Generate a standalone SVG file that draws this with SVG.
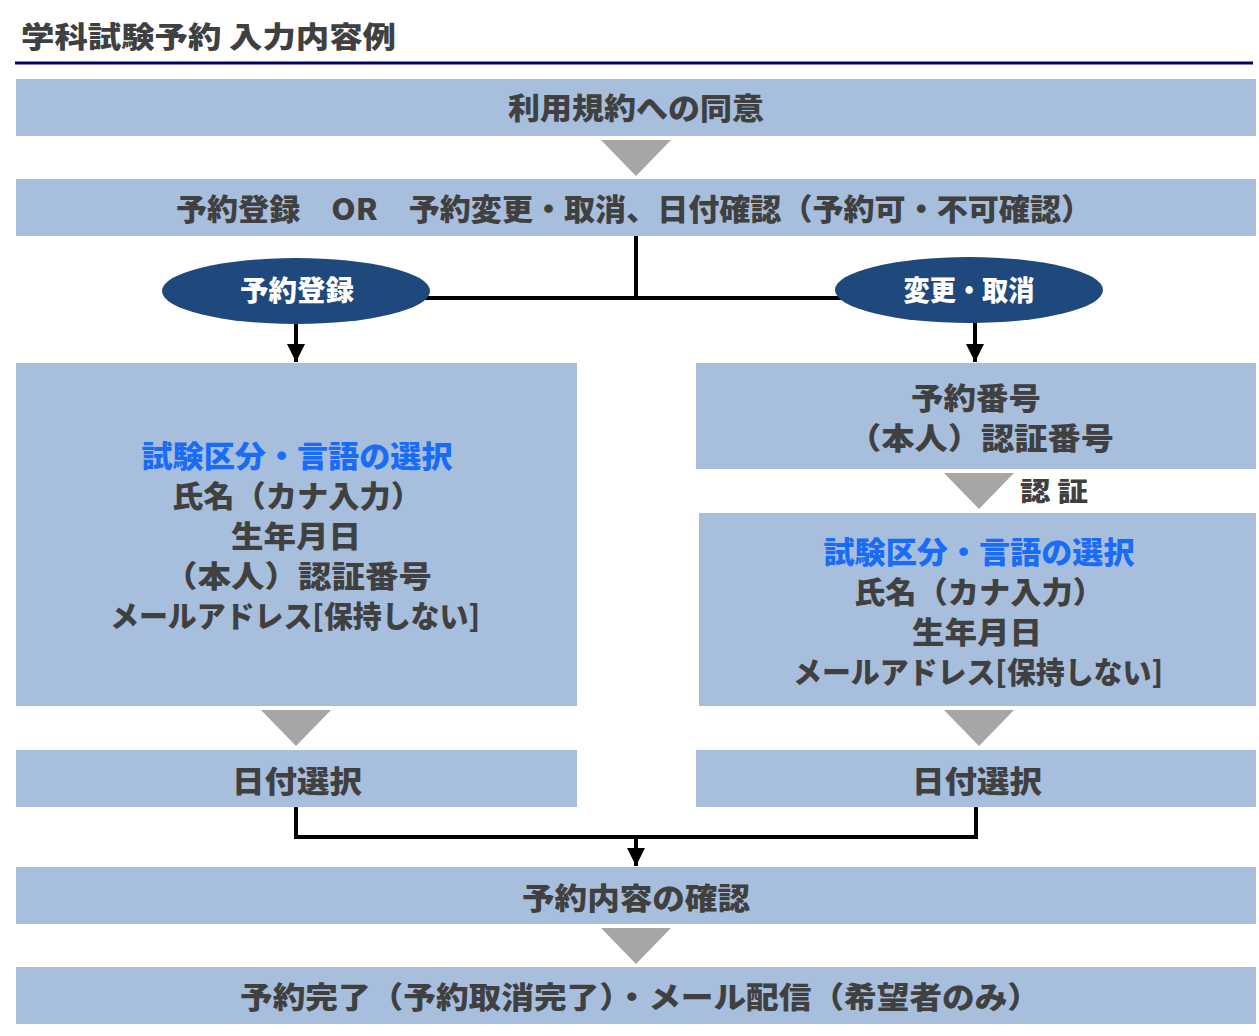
<svg xmlns="http://www.w3.org/2000/svg" width="1259" height="1036" viewBox="0 0 1259 1036">
<defs>
<style>
.box{fill:#A7BFDD}
.tri{fill:#A6A6A6}
.ell{fill:#1F497D}
.t{font-family:"Noto Sans CJK JP","Noto Sans",sans-serif;font-weight:900;fill:#404040;text-anchor:middle}
.w{fill:#FFFFFF}
.b{fill:#1A6CF6}
.ln{stroke:#000000;stroke-width:4;fill:none}
</style>
<marker id="ah" viewBox="0 0 10 10" refX="10" refY="5" markerWidth="4.5" markerHeight="4.5" markerUnits="strokeWidth" orient="auto">
<path d="M0,0 L10,5 L0,10 Z" fill="#000000"/>
</marker>
</defs>
<rect width="1259" height="1036" fill="#FFFFFF"/>
<g id="title">
<text x="21" y="48" class="t" style="text-anchor:start" font-size="29" textLength="375" lengthAdjust="spacingAndGlyphs">学科試験予約 入力内容例</text>
<line x1="15" y1="63" x2="1253" y2="63" stroke="#000066" stroke-width="3"/>
</g>
<g id="connectors">
<line class="ln" x1="636" y1="236" x2="636" y2="300"/>
<line class="ln" x1="400" y1="298" x2="860" y2="298"/>
<line class="ln" x1="296" y1="320" x2="296" y2="362" marker-end="url(#ah)"/>
<line class="ln" x1="975" y1="320" x2="975" y2="362" marker-end="url(#ah)"/>
<polyline class="ln" points="296,807 296,837 976,837 976,807"/>
<line class="ln" x1="636" y1="835" x2="636" y2="866" marker-end="url(#ah)"/>
<polygon class="tri" points="601,140 671,140 636,176"/>
<polygon class="tri" points="944,473 1014,473 979,509"/>
<polygon class="tri" points="261,710 331,710 296,746"/>
<polygon class="tri" points="944,710 1014,710 979,746"/>
<polygon class="tri" points="601,928 671,928 636,964"/>
<text x="1054" y="501" class="t" font-size="26" textLength="68" lengthAdjust="spacingAndGlyphs">認 証</text>
</g>
<g id="agree">
<rect class="box" x="16" y="79" width="1240" height="57"/>
<text x="636" y="119" class="t" font-size="30" textLength="256" lengthAdjust="spacingAndGlyphs">利用規約への同意</text>
</g>
<g id="choose">
<rect class="box" x="16" y="179" width="1240" height="57"/>
<text x="634" y="220" class="t" font-size="30" textLength="916" lengthAdjust="spacingAndGlyphs">予約登録　OR　予約変更・取消、日付確認（予約可・不可確認）</text>
</g>
<g id="reg-ellipse">
<ellipse class="ell" cx="296" cy="291" rx="134" ry="33"/>
<text x="297" y="301" class="t w" font-size="28" textLength="114" lengthAdjust="spacingAndGlyphs">予約登録</text>
</g>
<g id="chg-ellipse">
<ellipse class="ell" cx="969" cy="290" rx="134" ry="33"/>
<text x="969" y="301" class="t w" font-size="28" textLength="131" lengthAdjust="spacingAndGlyphs">変更・取消</text>
</g>
<g id="reg-input">
<rect class="box" x="16" y="363" width="561" height="343"/>
<text x="297" y="467" class="t b" font-size="30" textLength="311" lengthAdjust="spacingAndGlyphs">試験区分・言語の選択</text>
<text x="297" y="507" class="t" font-size="30" textLength="250" lengthAdjust="spacingAndGlyphs">氏名（カナ入力）</text>
<text x="296" y="547" class="t" font-size="30" textLength="130" lengthAdjust="spacingAndGlyphs">生年月日</text>
<text x="298" y="587" class="t" font-size="30" textLength="268" lengthAdjust="spacingAndGlyphs">（本人）認証番号</text>
<text x="295" y="627" class="t" font-size="30" textLength="370" lengthAdjust="spacingAndGlyphs">メールアドレス[保持しない]</text>
</g>
<g id="chg-auth">
<rect class="box" x="696" y="363" width="560" height="106"/>
<text x="976" y="409" class="t" font-size="30" textLength="130" lengthAdjust="spacingAndGlyphs">予約番号</text>
<text x="981" y="449" class="t" font-size="30" textLength="266" lengthAdjust="spacingAndGlyphs">（本人）認証番号</text>
</g>
<g id="chg-input">
<rect class="box" x="699" y="513" width="557" height="193"/>
<text x="979" y="563" class="t b" font-size="30" textLength="311" lengthAdjust="spacingAndGlyphs">試験区分・言語の選択</text>
<text x="979" y="603" class="t" font-size="30" textLength="250" lengthAdjust="spacingAndGlyphs">氏名（カナ入力）</text>
<text x="977" y="643" class="t" font-size="30" textLength="130" lengthAdjust="spacingAndGlyphs">生年月日</text>
<text x="978" y="683" class="t" font-size="30" textLength="370" lengthAdjust="spacingAndGlyphs">メールアドレス[保持しない]</text>
</g>
<g id="reg-date">
<rect class="box" x="16" y="750" width="561" height="57"/>
<text x="297" y="792" class="t" font-size="30" textLength="130" lengthAdjust="spacingAndGlyphs">日付選択</text>
</g>
<g id="chg-date">
<rect class="box" x="696" y="750" width="560" height="57"/>
<text x="977" y="792" class="t" font-size="30" textLength="130" lengthAdjust="spacingAndGlyphs">日付選択</text>
</g>
<g id="confirm">
<rect class="box" x="16" y="867" width="1240" height="57"/>
<text x="636" y="909" class="t" font-size="30" textLength="228" lengthAdjust="spacingAndGlyphs">予約内容の確認</text>
</g>
<g id="done">
<rect class="box" x="16" y="967" width="1240" height="57"/>
<text x="640" y="1008" class="t" font-size="30" textLength="800" lengthAdjust="spacingAndGlyphs">予約完了（予約取消完了）・メール配信（希望者のみ）</text>
</g>
</svg>
